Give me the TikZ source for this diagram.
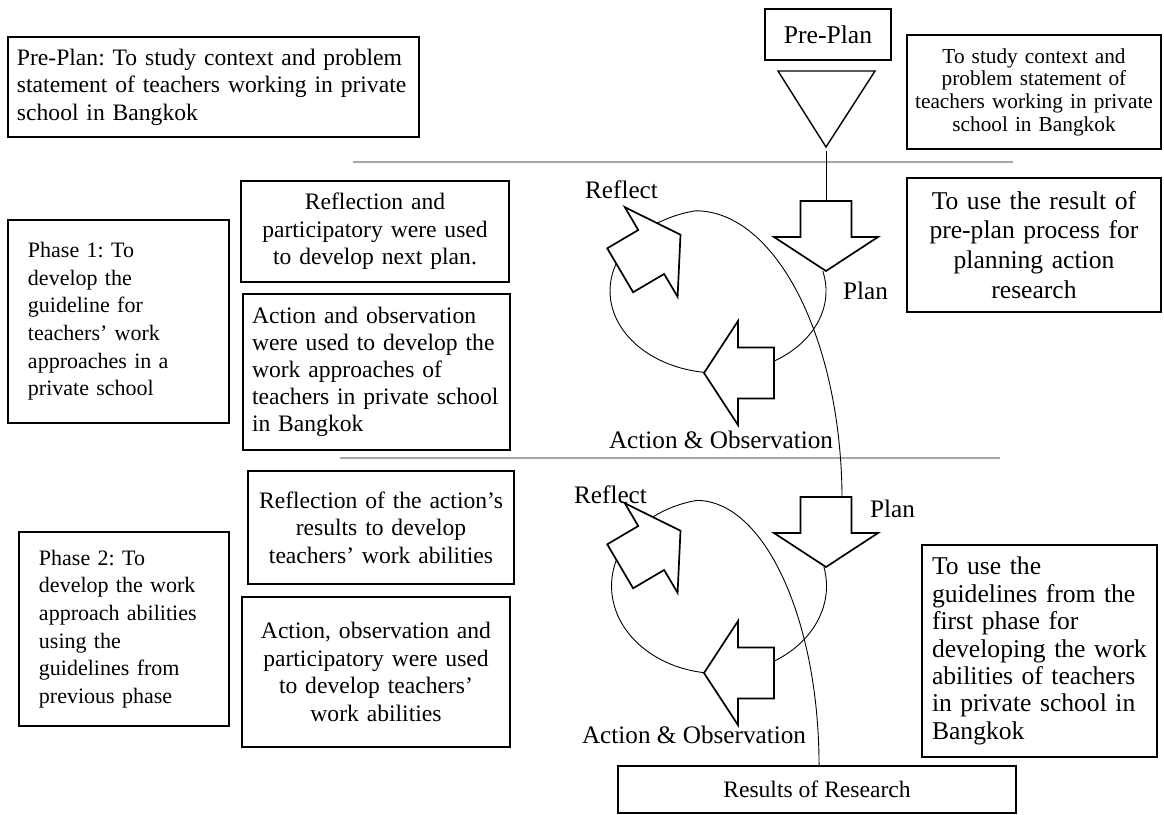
\documentclass[tikz,border=0pt]{standalone}
\usepackage{fontspec}
\setmainfont{Liberation Serif}
\usetikzlibrary{calc}
\definecolor{rulegray}{RGB}{166,166,166}
\frenchspacing

\tikzset{
	blockarrow/.pic={
		\draw[arrowline] (-36,-25.5) -- (0,-25.5) -- (0,-52) -- (34,0) -- (0,52) -- (0,25.5) -- (-36,25.5) -- cycle;
	}
}

\begin{document}
\begin{tikzpicture}[x=1pt, y=-1pt,
	box/.style={draw, line width=2.4pt, fill=white, inner sep=0pt, font=\fontsize{23.6}{27.5}\selectfont},
	lpad/.style={align=left, execute at begin node={\leftskip=#1\relax}},
	lbl/.style={inner sep=0pt, font=\fontsize{25.2}{28}\selectfont},
	cycleline/.style={line width=0.9pt},
	arrowline/.style={draw, line width=1.7pt, fill=white},
	phaseline/.style={line width=2.3pt, rulegray}]

	\useasboundingbox (0,0) rectangle (1164,814);

	\draw[phaseline] (353,162) -- (1013,162);
	\draw[phaseline] (340,458) -- (1000,458);

	% pre-plan marker
	\node[box, line width=1.7pt, minimum width=126pt, minimum height=51pt, font=\fontsize{25.6}{29.9}\selectfont] (prebox) at (828,34.5) {Pre-Plan};
	\draw[line width=1.4pt, line join=miter] (778,71) -- (875,71) -- (826,147) -- cycle;
	\coordinate (tritip) at (826,151);
	\coordinate (plantop1) at (826,202);
	\draw[cycleline] (tritip) -- (plantop1);

	% first cycle
	\coordinate (c1) at (718,291);
	\draw[cycleline] ($(c1)+(-14:108 and 82)$) arc[start angle=-14, end angle=258, x radius=108, y radius=82]
		arc[start angle=270, end angle=360, x radius=146.5, y radius=290];
	\pic[rotate=-90] at (826,237) {blockarrow};
	\pic[rotate=180] at (738,373) {blockarrow};
	\pic[rotate=30.5] at (651.2,252) {blockarrow};
	\node[lbl] (reflect1) at (621.5,190) {Reflect};
	\node[lbl] (plan1) at (865.5,291) {Plan};
	\node[lbl] (act1) at (721,440) {Action \& Observation};

	% second cycle
	\coordinate (c2) at (719,586);
	\draw[cycleline] ($(c2)+(-12.7:107.5 and 87.5)$) arc[start angle=-12.7, end angle=258, x radius=107.5, y radius=87.5]
		arc[start angle=270, end angle=360, x radius=122.4, y radius=265.6];
	\pic[rotate=-90] at (826,533) {blockarrow};
	\pic[rotate=180] at (738,673) {blockarrow};
	\pic[rotate=30.5] at (651.2,548) {blockarrow};
	\node[lbl] (reflect2) at (610.5,495) {Reflect};
	\node[lbl] (plan2) at (892.5,509) {Plan};
	\node[lbl] (act2) at (694,735) {Action \& Observation};

	% text boxes
	\node[box, minimum height=100pt, text width=411pt, lpad=9pt] (preplan) at (213.5,87) {Pre-Plan: To study context and problem\\statement of teachers working in private\\school in Bangkok};
	\node[box, minimum height=114pt, text width=254pt, align=center, font=\fontsize{21.3}{22.7}\selectfont] (study) at (1034,92) {To study context and\\problem statement of\\teachers working in private\\school in Bangkok};
	\node[box, minimum height=134pt, text width=254pt, align=center, font=\fontsize{25.6}{29.9}\selectfont] (useresult) at (1034,245) {To use the result of\\pre-plan process for\\planning action\\research};
	\node[box, minimum height=203pt, text width=221pt, lpad=20pt, font=\fontsize{22}{27.6}\selectfont] (phase1) at (118.5,321.5) {Phase 1: To\\develop the\\guideline for\\teachers' work\\approaches in a\\private school};
	\node[box, minimum height=101pt, text width=268pt, align=center] (reflect1box) at (375,231.5) {Reflection and\\participatory were used\\to develop next plan.};
	\node[box, minimum height=156pt, text width=267pt, lpad=9pt, font=\fontsize{23.6}{27}\selectfont] (act1box) at (376.5,372) {Action and observation\\were used to develop the\\work approaches of\\teachers in private school\\in Bangkok};
	\node[box, minimum height=113pt, text width=266pt, align=center] (reflect2box) at (381,527.5) {Reflection of the action's\\results to develop\\teachers' work abilities};
	\node[box, minimum height=150pt, text width=268pt, align=center] (act2box) at (376,672) {Action, observation and\\participatory were used\\to develop teachers'\\work abilities};
	\node[box, minimum height=194pt, text width=210pt, lpad=20pt, font=\fontsize{22}{27.6}\selectfont] (phase2) at (124,629) {Phase 2: To\\develop the work\\approach abilities\\using the\\guidelines from\\previous phase};
	\node[box, minimum height=212pt, text width=235pt, lpad=10pt, font=\fontsize{25.6}{27.4}\selectfont] (useguide) at (1039.5,651) {To use the\\guidelines from the\\first phase for\\developing the work\\abilities of teachers\\in private school in\\Bangkok};
	\node[box, line width=2pt, minimum width=398pt, minimum height=47pt] (results) at (817,789.5) {Results of Research};
\end{tikzpicture}
\end{document}
